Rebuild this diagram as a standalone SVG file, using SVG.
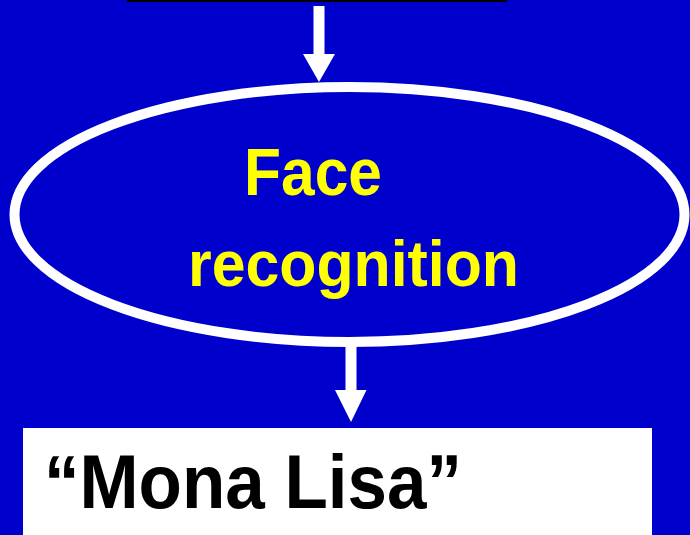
<svg xmlns="http://www.w3.org/2000/svg" width="690" height="535" viewBox="0 0 690 535">
<style>
.arrow{fill:#FFFFFF}
.lbl{font-family:"Comic Sans MS","Liberation Sans","DejaVu Sans",sans-serif;font-weight:bold}
</style>
<rect x="0" y="0" width="690" height="535" fill="#0000CC"/>
<g id="top-bar"><rect x="127" y="0" width="380" height="2" fill="#000000"/></g>
<g id="connectors">
<polygon class="arrow" points="313.5,6 324.5,6 324.5,54 335,54 319,82 303,54 313.5,54"/>
<polygon class="arrow" points="345.5,345 356.5,345 356.5,390 366.5,390 351,422 335,390 345.5,390"/>
</g>
<g id="face-recognition">
<ellipse cx="349.5" cy="214.5" rx="335" ry="127.5" fill="#0000CC" stroke="#FFFFFF" stroke-width="10"/>
<text class="lbl" x="244" y="195" font-size="66" fill="#FFFF00" textLength="138" lengthAdjust="spacingAndGlyphs">Face</text>
<text class="lbl" x="188" y="286" font-size="64" fill="#FFFF00" textLength="331" lengthAdjust="spacingAndGlyphs">recognition</text>
</g>
<g id="mona-lisa">
<rect x="23" y="428" width="629" height="110" fill="#FFFFFF"/>
<text class="lbl" x="44" y="508" font-size="76" fill="#000000" textLength="418" lengthAdjust="spacingAndGlyphs">“Mona Lisa”</text>
</g>
</svg>
